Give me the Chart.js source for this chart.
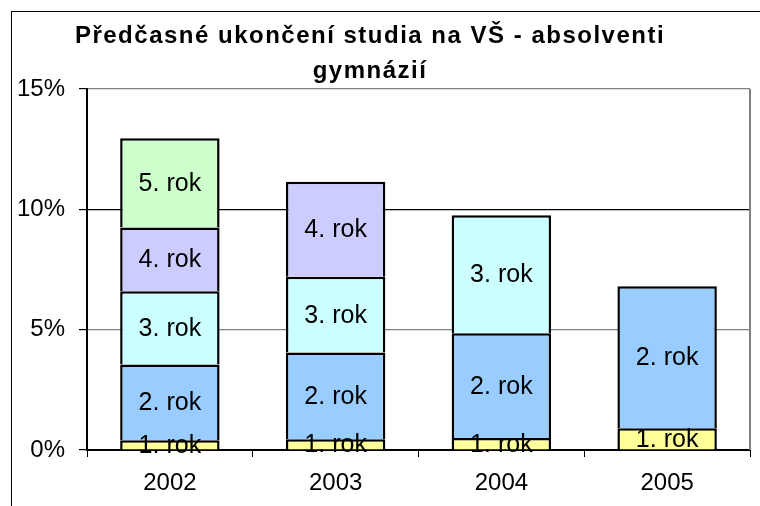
<!DOCTYPE html>
<html>
<head>
<meta charset="utf-8">
<script src="https://cdn.jsdelivr.net/npm/chart.js@4/dist/chart.umd.min.js"></script>
<style>
html,body{margin:0;padding:0;background:#fff;}
#wrap{position:relative;width:760px;height:506px;overflow:hidden;}
#frame{position:absolute;left:11px;top:11px;right:-2px;bottom:-2px;border-left:1px solid #000;border-top:1px solid #000;}
canvas{position:absolute;left:0;top:0;}
</style>
</head>
<body>
<div id="wrap"><div id="frame"></div><canvas id="chart" width="760" height="506"></canvas></div>
<script>
// Data
const titleLines = ['Předčasné ukončení studia na VŠ - absolventi', 'gymnázií'];
const years = ['2002', '2003', '2004', '2005'];
const rok1 = [0.4, 0.45, 0.5, 0.9];
const rok2 = [3.15, 3.6, 4.35, 5.9];
const rok3 = [3.05, 3.15, 4.9, null];
const rok4 = [2.65, 3.95, null, null];
const rok5 = [3.7, null, null, null];
const seriesNames = ['1. rok', '2. rok', '3. rok', '4. rok', '5. rok'];
const seriesValues = [rok1, rok2, rok3, rok4, rok5];
const seriesColors = ['#FFFF99', '#99CCFF', '#CCFFFF', '#CCCCFF', '#CCFFCC'];
const yMax = 15, yStep = 5;

const FONT = 'Arial, "Liberation Sans", sans-serif';

// title drawn by hand so letter spacing can match
const titlePlugin = {
  id: 'titleText',
  afterDraw(chart){
    const c = chart.ctx;
    c.save();
    c.fillStyle = '#000';
    c.font = 'bold 24px ' + FONT;
    c.textAlign = 'center';
    c.textBaseline = 'middle';
    try { c.letterSpacing = '1.5px'; } catch(e){}
    c.fillText(titleLines[0], 370, 36);
    c.fillText(titleLines[1], 370, 71);
    c.restore();
  }
};

// gray border on the right of the plot area
const plotBorder = {
  id: 'plotBorder',
  beforeDatasetsDraw(chart){
    const a = chart.chartArea, c = chart.ctx;
    c.save();
    c.strokeStyle = '#808080';
    c.lineWidth = 2;
    c.beginPath();
    c.moveTo(a.right, a.top);
    c.lineTo(a.right, a.bottom);
    c.stroke();
    c.restore();
  }
};

// segment labels ("N. rok") in the middle of each piece
const segLabels = {
  id: 'segLabels',
  afterDatasetsDraw(chart){
    const c = chart.ctx;
    c.save();
    c.fillStyle = '#000';
    c.font = '25px ' + FONT;
    c.textAlign = 'center';
    c.textBaseline = 'middle';
    chart.data.datasets.forEach((ds, i) => {
      const meta = chart.getDatasetMeta(i);
      meta.data.forEach((el, j) => {
        if (ds.data[j] == null) return;
        c.fillText(ds.label, el.x, (el.y + el.base) / 2 + 1);
      });
    });
    c.restore();
  }
};

const datasets = seriesNames.map((name, i) => ({
  label: name,
  data: seriesValues[i],
  backgroundColor: seriesColors[i],
  borderColor: '#000',
  borderWidth: 2.5,
  borderSkipped: 'start',
  categoryPercentage: 1,
  barPercentage: 0.6
}));

new Chart(document.getElementById('chart').getContext('2d'), {
  type: 'bar',
  data: { labels: years, datasets },
  options: {
    responsive: false,
    animation: false,
    layout: { padding: { top: 89, right: 10, left: 0, bottom: 0 } },
    plugins: { legend: { display: false }, tooltip: { enabled: false }, title: { display: false } },
    scales: {
      x: {
        stacked: true,
        grid: { drawOnChartArea: false, color: '#000', tickLength: 7, offset: true },
        border: { color: '#000', width: 2 },
        ticks: { color: '#000', font: { family: FONT, size: 24 }, padding: 12 },
        afterFit(s){ s.height = 56; }
      },
      y: {
        stacked: true,
        min: 0, max: yMax,
        grid: {
          color: ctx => (ctx.tick && (ctx.tick.value === 10 || ctx.tick.value === 0)) ? '#000' : '#808080',
          lineWidth: 1.2,
          tickColor: '#000',
          tickLength: 8
        },
        border: { color: '#000', width: 2 },
        ticks: { stepSize: yStep, color: '#000', font: { family: FONT, size: 24 }, padding: 14,
          callback: v => v + '%' },
        afterFit(s){ s.width = 87; }
      }
    }
  },
  plugins: [titlePlugin, plotBorder, segLabels]
});
</script>
</body>
</html>
